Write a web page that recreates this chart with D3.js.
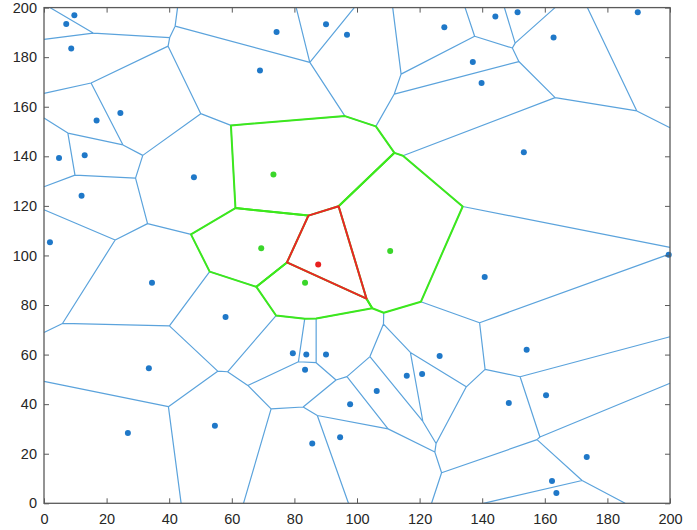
<!DOCTYPE html>
<html>
<head>
<meta charset="utf-8">
<script src="https://cdn.jsdelivr.net/npm/d3@7"></script>
<style>
  body { margin: 0; background: #fff; }
  text { font-family: "Liberation Sans", Arial, sans-serif; font-size: 14.5px; fill: #262626; }
</style>
</head>
<body>
<svg id="chart" width="697" height="530"></svg>
<script>
// sites
var siteX = [9.7, 7.1, 8.7, 16.8, 24.4, 4.8, 13.0, 47.9, 74.3, 90.1, 96.8, 127.9, 69.0,
             73.3, 144.2, 151.3, 189.7, 162.8, 137.0, 139.8, 153.3, 12.0, 1.9, 34.5, 58.0,
             69.4, 87.6, 83.4, 110.6, 140.8, 154.2, 33.5, 26.8, 54.6, 79.5, 83.8, 90.1,
             83.4, 126.4, 115.9, 120.8, 106.3, 97.8, 94.6, 85.7, 160.4, 148.5, 173.4,
             162.3, 163.7];
var siteY = [196.9, 193.4, 183.5, 154.4, 157.5, 139.3, 140.4, 131.6, 190.2, 193.3, 189.0, 192.1, 174.6,
             132.7, 196.4, 198.1, 198.1, 187.9, 178.1, 169.6, 141.6, 124.1, 105.3, 89.0, 75.2,
             102.9, 96.3, 89.0, 101.8, 91.3, 62.0, 54.5, 28.4, 31.3, 60.5, 60.0, 60.0,
             53.9, 59.4, 51.5, 52.2, 45.3, 40.0, 26.6, 24.1, 43.6, 40.5, 18.7,
             9.0, 4.2];
// marker sitting on the right border, not part of the tessellation
var edgeX = [199.6];
var edgeY = [100.3];
var selectedSite = 26;
var xTicks = [0, 20, 40, 60, 80, 100, 120, 140, 160, 180, 200];
var yTicks = [0, 20, 40, 60, 80, 100, 120, 140, 160, 180, 200];

var svg = d3.select("#chart");
var mLeft = 44, mRight = 670, mTop = 7.6, mBottom = 503.3;

var x = d3.scaleLinear().domain([0, 200]).range([mLeft, mRight]);
var y = d3.scaleLinear().domain([0, 200]).range([mBottom, mTop]);

// voronoi is computed in data space, then drawn through the scales
var sites = siteX.map(function(d, i) { return [d, siteY[i]]; });
var delaunay = d3.Delaunay.from(sites);
var voronoi = delaunay.voronoi([0, 0, 200, 200]);
var nbrs = Array.from(voronoi.neighbors(selectedSite));

function scaledPath() {
    var p = d3.path();
    return {
        moveTo: function(a, b) { p.moveTo(x(a), y(b)); },
        lineTo: function(a, b) { p.lineTo(x(a), y(b)); },
        closePath: function() { p.closePath(); },
        toString: function() { return p.toString(); }
    };
}
function meshPath() { var c = scaledPath(); voronoi.render(c); return c.toString(); }
function cellPath(i) { var c = scaledPath(); voronoi.renderCell(i, c); return c.toString(); }

// all edges
svg.append("path")
    .attr("d", meshPath())
    .attr("fill", "none")
    .attr("stroke", "#5ba3dc")
    .attr("stroke-width", 1.2);

// neighbour cells
svg.append("g").selectAll("path")
    .data(nbrs)
    .enter()
    .append("path")
    .attr("d", function(i) { return cellPath(i); })
    .attr("fill", "none")
    .attr("stroke", "#3de81c")
    .attr("stroke-width", 2)
    .attr("stroke-linejoin", "round");

// selected cell
svg.append("path")
    .attr("d", cellPath(selectedSite))
    .attr("fill", "none")
    .attr("stroke", "#ec2424")
    .attr("stroke-width", 2)
    .attr("stroke-linejoin", "round");

var dots = sites.concat(edgeX.map(function(d, i) { return [d, edgeY[i]]; }));
svg.append("g").selectAll("circle")
    .data(dots)
    .enter()
    .append("circle")
    .attr("cx", function(d) { return x(d[0]); })
    .attr("cy", function(d) { return y(d[1]); })
    .attr("r", 3)
    .attr("fill", function(d, i) {
        if (i === selectedSite) return "#e8201f";
        if (nbrs.indexOf(i) >= 0) return "#3ad62a";
        return "#1f78c8";
    });

// axes box with inward ticks
var axisColor = "#262626";
svg.append("rect")
    .attr("x", mLeft).attr("y", mTop)
    .attr("width", mRight - mLeft).attr("height", mBottom - mTop)
    .attr("fill", "none").attr("stroke", "#5a5a5a").attr("stroke-width", 1.3);

svg.append("g")
    .attr("transform", "translate(0," + mBottom + ")")
    .call(d3.axisBottom(x).tickValues(xTicks).tickSizeInner(-5).tickSizeOuter(0).tickPadding(10))
    .call(function(g) {
        g.select(".domain").remove();
        g.selectAll("line").attr("stroke", "#5a5a5a");
        g.selectAll("text").attr("fill", axisColor).style("font-size", "14.5px");
    });
svg.append("g")
    .attr("transform", "translate(" + mLeft + ",0)")
    .call(d3.axisLeft(y).tickValues(yTicks).tickSizeInner(-5).tickSizeOuter(0).tickPadding(7))
    .call(function(g) {
        g.select(".domain").remove();
        g.selectAll("line").attr("stroke", "#5a5a5a");
        g.selectAll("text").attr("fill", axisColor).style("font-size", "14.5px");
    });
svg.append("g")
    .attr("transform", "translate(0," + mTop + ")")
    .call(d3.axisTop(x).tickValues(xTicks).tickSizeInner(-5).tickSizeOuter(0).tickFormat(""))
    .call(function(g) { g.select(".domain").remove(); g.selectAll("line").attr("stroke", "#5a5a5a"); });
svg.append("g")
    .attr("transform", "translate(" + mRight + ",0)")
    .call(d3.axisRight(y).tickValues(yTicks).tickSizeInner(-5).tickSizeOuter(0).tickFormat(""))
    .call(function(g) { g.select(".domain").remove(); g.selectAll("line").attr("stroke", "#5a5a5a"); });
</script>
</body>
</html>
